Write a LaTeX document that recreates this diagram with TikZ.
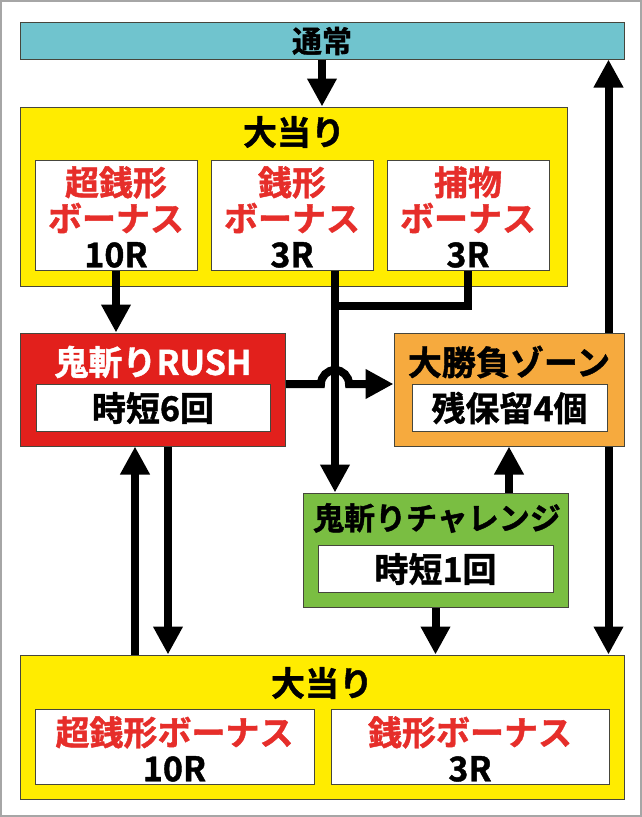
\documentclass[tikz,border=0pt]{standalone}
\usepackage{fontspec}
\setmainfont{Noto Sans CJK JP}[BoldFont=* Bold, BoldFeatures={FakeBold=1.2}]
\usetikzlibrary{arrows.meta, backgrounds}
\definecolor{tsujoblue}{RGB}{112,196,206}
\definecolor{atariyellow}{RGB}{255,236,0}
\definecolor{rushred}{RGB}{226,32,28}
\definecolor{zoneorange}{RGB}{246,170,62}
\definecolor{chalgreen}{RGB}{122,190,66}
\definecolor{bonusred}{RGB}{230,46,42}
\definecolor{edgegray}{RGB}{70,70,60}
\begin{document}
\begin{tikzpicture}[x=1pt, y=-1pt, line join=miter,
    panel/.style={draw=edgegray, line width=1pt, inner sep=0pt},
    inbox/.style={panel, fill=white},
    label/.style={font=\bfseries\fontsize{34}{36}\selectfont, inner sep=0pt, align=center},
    bonus/.style={label, text=bonusred},
    arr/.style={line width=8pt, -{Triangle[width=28pt,length=28pt]}}]
    \useasboundingbox (0,0) rectangle (642,817);
    \draw[gray!70, line width=2pt] (1,1) rectangle (641,816);
    % boxes
    \node[panel, fill=tsujoblue, minimum width=604pt, minimum height=37pt] (tsujo) at (322,40.5) {};
    \node[panel, fill=atariyellow, minimum width=547pt, minimum height=179pt] (atari1) at (294,196.5) {};
    \foreach \nm/\cx in {b1/116, b2/292, b3/468} {
        \node[inbox, minimum width=162pt, minimum height=110pt] (\nm) at (\cx,215) {};
    }
    \node[panel, fill=rushred, minimum width=265pt, minimum height=113pt] (rush) at (153,389.5) {};
    \node[inbox, minimum width=234pt, minimum height=47pt] (rushin) at (153,407.5) {};
    \node[panel, fill=zoneorange, minimum width=230pt, minimum height=113pt] (zone) at (509,389.5) {};
    \node[inbox, minimum width=195pt, minimum height=47pt] (zonein) at (509.5,407.5) {};
    \node[panel, fill=chalgreen, minimum width=265pt, minimum height=114pt] (chal) at (435.5,550) {};
    \node[inbox, minimum width=235pt, minimum height=47pt] (chalin) at (435.5,568.5) {};
    \node[panel, fill=atariyellow, minimum width=604pt, minimum height=144pt] (atari2) at (322,727) {};
    \node[inbox, minimum width=279pt, minimum height=75pt] (c1) at (174.5,746.5) {};
    \node[inbox, minimum width=278pt, minimum height=75pt] (c2) at (470,746.5) {};
    % texts
    \node[label, font=\bfseries\fontsize{30}{32}\selectfont] (tsujot) at (322,41) {通常};
    \node[label] (atari1t) at (294,132) {大当り};
    \node[bonus] (b1t) at (116,217) {超銭形\\ボーナス\\\textcolor{black}{10R}};
    \node[bonus] (b2t) at (292,217) {銭形\\ボーナス\\\textcolor{black}{3R}};
    \node[bonus] (b3t) at (468,217) {捕物\\ボーナス\\\textcolor{black}{3R}};
    \node[label, text=white] (rusht) at (153,362) {鬼斬りRUSH};
    \node[label] (rushint) at (153,408) {時短6回};
    \node[label] (zonet) at (509,362) {大勝負ゾーン};
    \node[label] (zoneint) at (509.5,408) {残保留4個};
    \node[label, font=\bfseries\fontsize{31}{36}\selectfont] (chalt) at (437,518) {鬼斬りチャレンジ};
    \node[label] (chalint) at (435.5,569) {時短1回};
    \node[label] (atari2t) at (322,683) {大当り};
    \node[bonus] (c1t) at (174.5,749) {超銭形ボーナス\\\textcolor{black}{10R}};
    \node[bonus] (c2t) at (470,749) {銭形ボーナス\\\textcolor{black}{3R}};
    % connectors
    \coordinate (hop) at (335,384);
    \coordinate (jn) at (335,306);
    \begin{pgfonlayer}{background}
        \draw[arr, {Triangle[width=28pt,length=28pt]}-{Triangle[width=28pt,length=28pt]}]
            ([xshift=-16pt]tsujo.south east) -- ([xshift=-16pt]tsujo.south east |- atari2.north);
    \end{pgfonlayer}
    \draw[arr] (tsujo.south) -- (tsujo.south |- atari1.north);
    \draw[arr] (b1.south) -- (b1.south |- rush.north);
    \draw[arr] (b2.south -| hop) -- (hop |- chal.north);
    \draw[line width=8pt] (b3.south) |- (jn);
    \draw[arr] (rush.east |- hop) -- ([xshift=-14pt]hop) arc (180:0:14pt) -- (zone.west |- hop);
    \draw[arr] (zone.south |- chal.north) -- (zone.south);
    \draw[arr] (chal.south) -- (chal.south |- atari2.north);
    \draw[arr] ([xshift=-18pt]rush.south |- atari2.north) -- ([xshift=-18pt]rush.south);
    \draw[arr] ([xshift=15pt]rush.south) -- ([xshift=15pt]rush.south |- atari2.north);
\end{tikzpicture}
\end{document}
